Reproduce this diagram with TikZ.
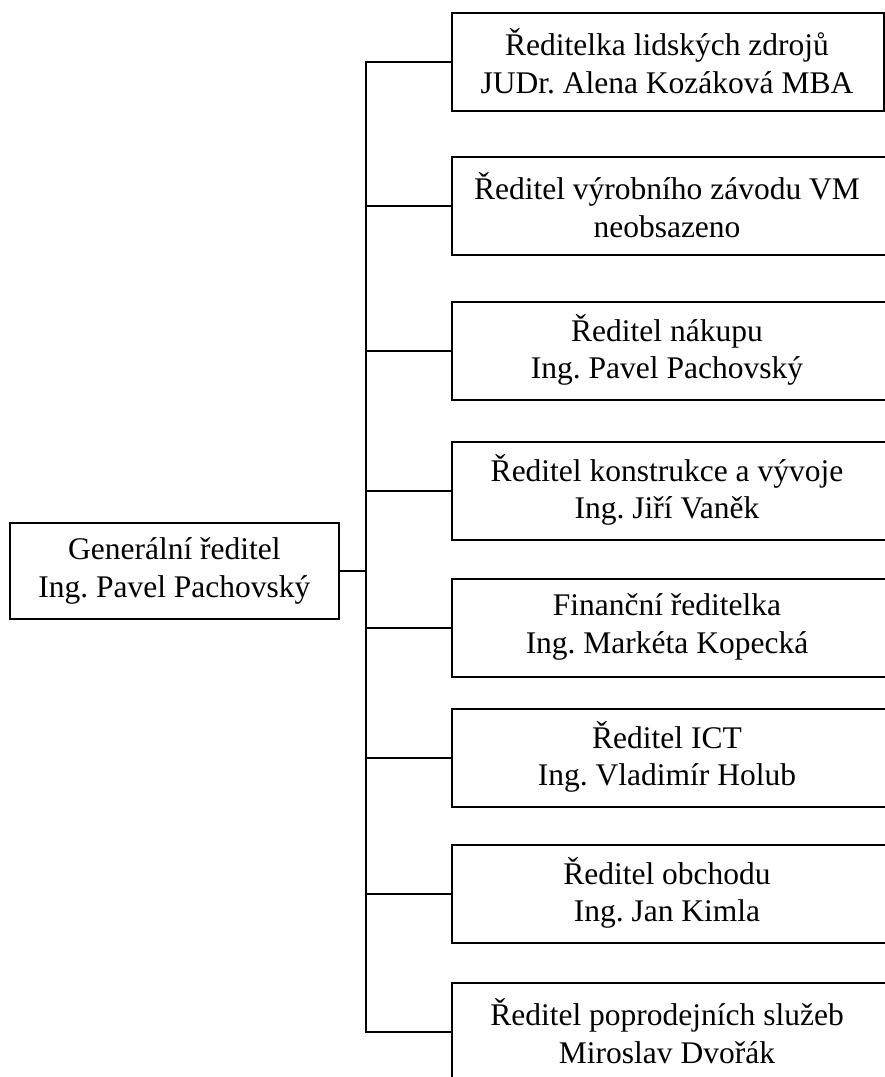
\documentclass[tikz,border=0pt]{standalone}
\usepackage{fontspec}
\setmainfont{Liberation Serif}
\frenchspacing
\begin{document}
\begin{tikzpicture}[x=1pt,y=-1pt,
  box/.style={draw, line width=1.8pt, anchor=north west, minimum height=98pt, inner sep=0pt},
  boxtext/.style={align=center, font=\fontsize{31.5}{37.5}\selectfont, inner sep=0pt},
  link/.style={line width=1.8pt}]
\useasboundingbox (0,0) rectangle (885,1077);
\clip (0,0) rectangle (885,1077);

% general director
\node[box, minimum width=329pt, minimum height=96pt] (root) at (9,522) {};
\node[boxtext] (t0) at (root.center) {Generální ředitel\\Ing. Pavel Pachovský};

% department heads
\node[box, minimum width=432pt] (r1) at (451,12) {};
\node[box, minimum width=470pt] (r2) at (451,156) {};
\node[box, minimum width=470pt] (r3) at (451,301) {};
\node[box, minimum width=470pt] (r4) at (451,441) {};
\node[box, minimum width=470pt] (r5) at (451,578) {};
\node[box, minimum width=470pt] (r6) at (451,708) {};
\node[box, minimum width=470pt] (r7) at (451,844) {};
\node[box, minimum width=470pt] (r8) at (451,982) {};

\node[boxtext] (t1) at (667,61)   {Ředitelka lidských zdrojů\\JUDr. Alena Kozáková MBA};
\node[boxtext] (t2) at (667,205)  {Ředitel výrobního závodu VM\\neobsazeno};
\node[boxtext] (t3) at (667,350)  {Ředitel nákupu\\Ing. Pavel Pachovský};
\node[boxtext] (t4) at (667,490)  {Ředitel konstrukce a vývoje\\Ing. Jiří Vaněk};
\node[boxtext] (t5) at (667,627)  {Finanční ředitelka\\Ing. Markéta Kopecká};
\node[boxtext] (t6) at (667,757)  {Ředitel ICT\\Ing. Vladimír Holub};
\node[boxtext] (t7) at (667,893)  {Ředitel obchodu\\Ing. Jan Kimla};
\node[boxtext] (t8) at (667,1031) {Ředitel poprodejních služeb\\Miroslav Dvořák};

% connectors
\coordinate (bus) at (366,0);
\draw[link] (root.east) -- (root.east -| bus);
\draw[link] (r1.west) -- (r1.west -| bus) -- (r8.west -| bus) -- (r8.west);
\foreach \i in {2,...,7}
  \draw[link] (r\i.west -| bus) -- (r\i.west);
\end{tikzpicture}
\end{document}
